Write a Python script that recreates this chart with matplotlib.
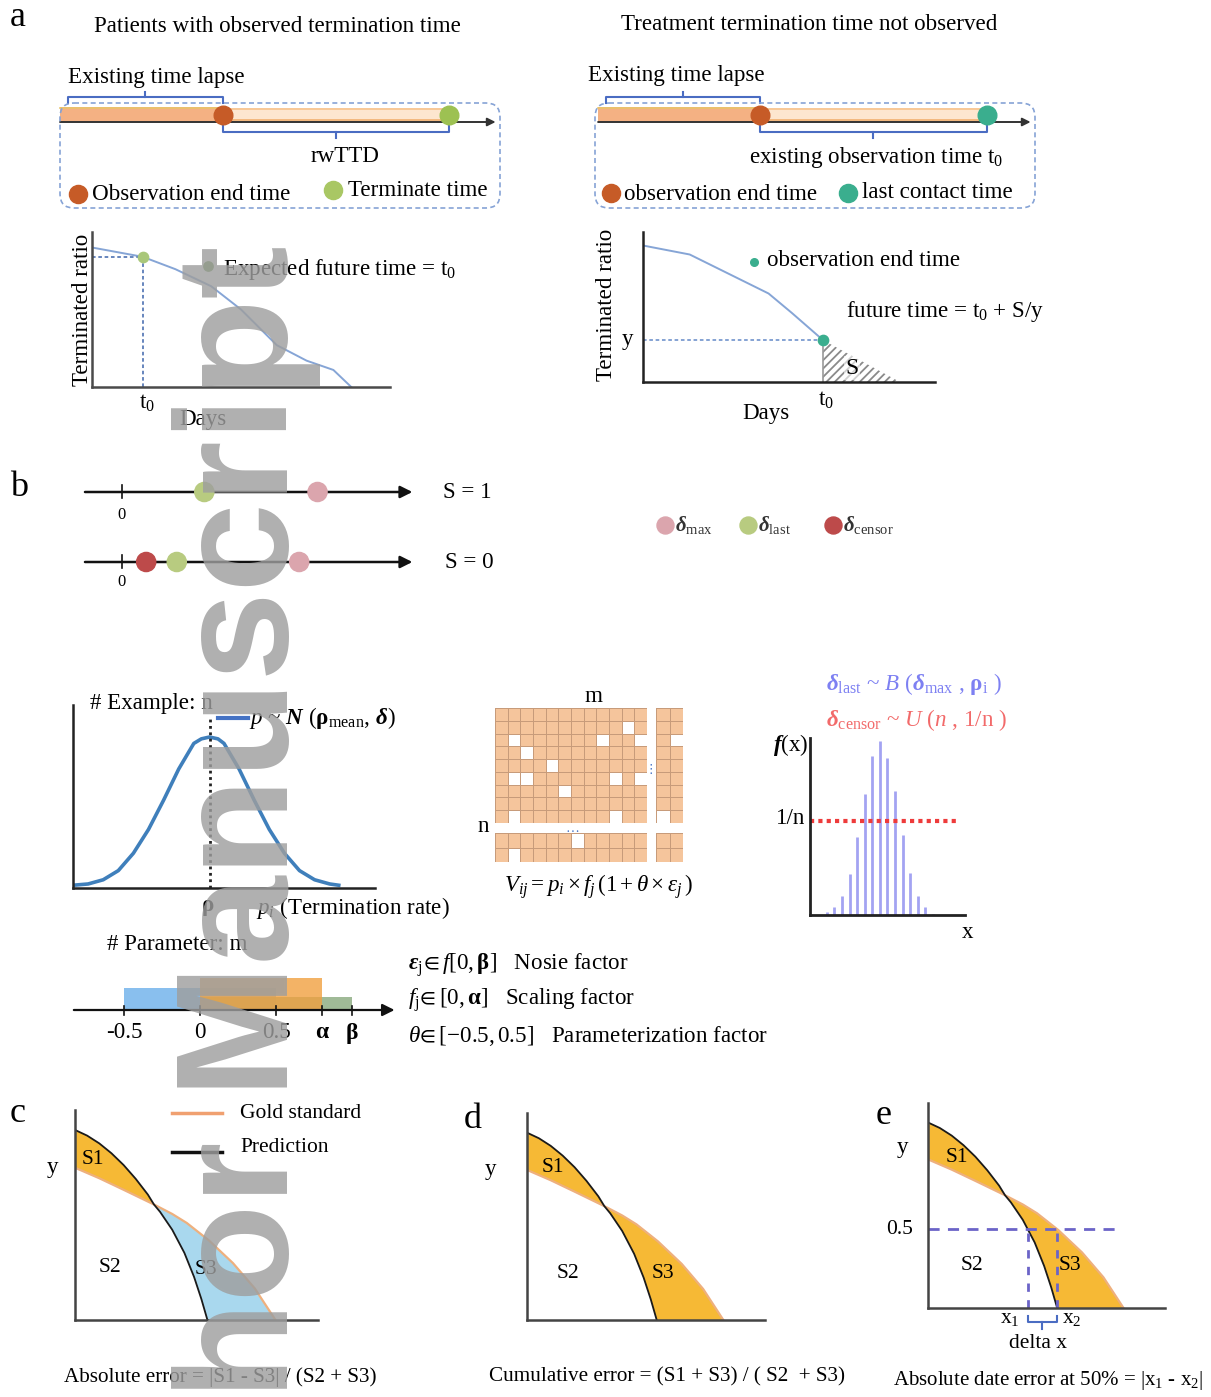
import numpy as np
import matplotlib
matplotlib.use("Agg")
import matplotlib.pyplot as plt
from matplotlib.patches import FancyBboxPatch, Polygon
from matplotlib.colors import ListedColormap

plt.rcParams['font.family'] = ['Liberation Serif', 'DejaVu Serif', 'DejaVu Sans']
plt.rcParams['mathtext.fontset'] = 'custom'
plt.rcParams['mathtext.rm'] = 'Liberation Serif'
plt.rcParams['mathtext.it'] = 'Liberation Serif:italic'
plt.rcParams['mathtext.bf'] = 'Liberation Serif:italic:bold'
plt.rcParams['mathtext.sf'] = 'Liberation Serif:bold'
plt.rcParams['mathtext.fallback'] = 'stix'
plt.rcParams['hatch.linewidth'] = 1.3

# ---------------- data ----------------
# panel a: timelines (days): start, observation end, end event, axis end
obs_timeline = [0.0, 37.0, 88.5, 99.0]
cens_timeline = [0.7, 37.5, 89.0, 99.0]
# panel a: terminated-ratio curves
obs_days = [0, 17, 28, 40, 50, 62, 72, 81, 87]
obs_ratio = [0.90, 0.84, 0.76, 0.65, 0.50, 0.27, 0.17, 0.11, 0.0]
obs_t0 = 17
obs_y0 = 0.84
cens_days = [0, 16, 43, 51, 61.6]
cens_ratio = [0.91, 0.85, 0.59, 0.46, 0.28]
cens_tail_days = [61.6, 88]
cens_tail_ratio = [0.28, 0.0]
# panel b: number lines
s1_labels = ['last', 'max']
s1_values = [2.7, 6.4]
s0_labels = ['censor', 'last', 'max']
s0_values = [0.8, 1.8, 5.8]
# panel b: normal density
norm_x = [0.0, 0.05, 0.10, 0.15, 0.20, 0.25, 0.30, 0.35, 0.40, 0.425, 0.452,
          0.48, 0.50, 0.55, 0.60, 0.65, 0.70, 0.75, 0.80, 0.85, 0.88]
norm_y = [0.015, 0.022, 0.045, 0.095, 0.19, 0.32, 0.48, 0.65, 0.79, 0.815, 0.825,
          0.815, 0.79, 0.65, 0.48, 0.32, 0.19, 0.095, 0.045, 0.022, 0.015]
rho_mean = 0.452
# panel b: parameter ranges
param_ticks = [-0.5, 0.0, 0.5, 0.8, 1.0]
param_tick_labels = ['-0.5', '0', '0.5', 'α', 'β']
theta_range = [-0.5, 0.5]
f_range = [0.0, 0.8]
eps_range = [0.0, 1.0]
# panel b: matrix missing cells (row, col)
main_shape = (9, 12)
main_missing = [(1, 10), (2, 1), (2, 8), (2, 11), (3, 2), (4, 4), (5, 1), (5, 2),
                (5, 9), (5, 11), (6, 5), (8, 1), (8, 9)]
side_shape = (9, 2)
side_missing = [(2, 1), (8, 0)]
bottom_shape = (2, 12)
bottom_missing = [(0, 6), (1, 1)]
corner_shape = (2, 2)
corner_missing = []
# panel b: binomial pmf
binom_k = list(range(15))
binom_pmf = [0.015, 0.048, 0.108, 0.229, 0.442, 0.684, 0.898, 0.981, 0.888, 0.703,
             0.452, 0.238, 0.108, 0.043, 0.006]
uniform_level = 0.53
# panels c-e: survival curves
pred_x = [0, 0.05, 0.10, 0.15, 0.20, 0.25, 0.30, 0.325, 0.35, 0.40, 0.45, 0.49, 0.52, 0.545]
pred_y = [0.905, 0.878, 0.841, 0.794, 0.738, 0.672, 0.597, 0.55, 0.515, 0.43, 0.32, 0.205, 0.10, 0.0]
gold_x = [0, 0.10, 0.20, 0.325, 0.40, 0.46, 0.55, 0.65, 0.74, 0.825]
gold_y = [0.725, 0.675, 0.62, 0.55, 0.505, 0.462, 0.38, 0.271, 0.15, 0.0]
cross_x = 0.325
half_level = 0.385

# ---------------- figure ----------------
W, H = 1211, 1397
fig = plt.figure(figsize=(W / 100, H / 100), dpi=100)
fig.patch.set_facecolor('white')


def px_axes(x0, y0, x1, y1, z=2):
    ax = fig.add_axes([x0 / W, 1 - y1 / H, (x1 - x0) / W, (y1 - y0) / H])
    ax.set_facecolor('none')
    ax.set_zorder(z)
    return ax


def clean(ax, color='#4a4a4a', lw=1.8):
    for k, s in ax.spines.items():
        if k in ('left', 'bottom'):
            s.set_color(color)
            s.set_linewidth(lw)
        else:
            s.set_visible(False)
    ax.set_xticks([])
    ax.set_yticks([])


ov = px_axes(0, 0, W, H, z=10)
ov.set_xlim(0, W)
ov.set_ylim(H, 0)
ov.axis('off')


def T(x, y, s, size=16.6, ha='left', va='center', **kw):
    return ov.text(x, y, s, fontsize=size, ha=ha, va=va, **kw)


# ======== panel a ========
T(10, 18, 'a', size=26)
T(277, 26, 'Patients with observed termination time', ha='center')
T(809, 25, 'Treatment termination time not observed', ha='center')

BC = '#4a6cc2'


def timeline(x0, events, end_color):
    ax = px_axes(x0 - 5, 85, x0 + 445, 145)
    ax.set_xlim(-5 / 4.4, 445 / 4.4)
    ax.set_ylim(145, 85)
    ax.axis('off')
    s, e1, e2, e3 = events
    ax.fill_between([s, e1], 107, 122, color='#f4b183', lw=0)
    ax.plot([s, e1], [107.5, 107.5], color='#e8c46a', lw=1.2)
    ax.fill_between([e1, e2], 108, 122, color='#fde6cf', lw=0)
    ax.plot([e1, e2], [108.5, 108.5], color='#f7c48f', lw=1.2)
    ax.plot([e1, e2], [120, 120], color='#f2b070', lw=1.2)
    ax.annotate('', xy=(e3, 122), xytext=(s, 122),
                arrowprops=dict(arrowstyle='-|>', color='#333333', lw=1.4,
                                mutation_scale=12, shrinkA=0, shrinkB=0))
    ax.scatter([e1], [115], s=180, color='#c65b27', zorder=5)
    ax.scatter([e2], [115], s=180, color=end_color, zorder=5)
    ax.plot([s + 1.8, s + 1.8, e1, e1], [103, 97, 97, 103], color=BC, lw=1.5)
    m1 = (s + 1.8 + e1) / 2
    ax.plot([m1, m1], [97, 92], color=BC, lw=1.5)
    ax.plot([e1, e1, e2, e2], [125, 132, 132, 125], color=BC, lw=1.5)
    m2 = (e1 + e2) / 2
    ax.plot([m2, m2], [132, 138], color=BC, lw=1.5)


for bx0 in (60, 595):
    ov.add_patch(FancyBboxPatch((bx0, 103), 440, 105,
                                boxstyle='round,pad=0,rounding_size=14',
                                fc='none', ec='#86a3d6', lw=1.2, ls=(0, (3, 2))))
timeline(60, obs_timeline, '#9dc152')
timeline(595, cens_timeline, '#3aae8e')

T(68, 78, 'Existing time lapse')
T(345, 157, 'rwTTD', ha='center')
ov.scatter([78], [194], s=170, color='#c65b27', zorder=6)
T(92, 195, 'Observation end time')
ov.scatter([333], [190], s=170, color='#a9c764', zorder=6)
T(348, 191, 'Terminate time')

T(588, 76, 'Existing time lapse')
T(876, 157, r'existing observation time $\rm t_0$', ha='center')
ov.scatter([611], [193], s=170, color='#c65b27', zorder=6)
T(624, 194, 'observation end time')
ov.scatter([848], [193], s=170, color='#3aae8e', zorder=6)
T(862, 193, 'last contact time')

# left chart
ca = px_axes(92, 232, 390, 387)
ca.set_xlim(0, 100)
ca.set_ylim(0, 1)
clean(ca)
ca.plot(obs_days, obs_ratio, color='#86a5d6', lw=1.4)
ca.plot([0, obs_t0], [obs_y0, obs_y0], ls=(0, (2, 1.5)), color='#5b7cb8', lw=1.3)
ca.plot([obs_t0, obs_t0], [0, obs_y0], ls=(0, (2, 1.5)), color='#5b7cb8', lw=1.3)
ca.scatter([obs_t0], [obs_y0], s=55, color='#a9c77a', zorder=5)
T(82, 310, 'Terminated ratio', rotation=90, ha='center')
T(147, 403, r'$\rm t_0$', ha='center')
T(203, 420, 'Days', ha='center')
ov.scatter([208], [266], s=45, color='#6f9a4e', zorder=6)
T(223, 270, r'Expected future time = $\rm t_0$')

# right chart
cb = px_axes(643, 232, 935, 382)
cb.set_xlim(0, 100)
cb.set_ylim(0, 1)
clean(cb, color='#222222')
cb.fill_between(cens_tail_days, cens_tail_ratio, 0, facecolor='white',
                hatch='////', edgecolor='#8a8a8a', lw=0)
cb.plot(cens_days, cens_ratio, color='#86a5d6', lw=1.4)
cb.plot([cens_days[-1]] * 2, [0, cens_ratio[-1]], color='#9a9a9a', lw=1.2)
cb.plot([0, cens_days[-1]], [cens_ratio[-1]] * 2, ls=(0, (2, 1.5)), color='#7b9bd0', lw=1.3)
cb.scatter([cens_days[-1]], [cens_ratio[-1]], s=55, color='#3aae8e', zorder=5)
T(606, 305, 'Terminated ratio', rotation=90, ha='center')
T(627, 340, 'y', ha='center')
T(826, 400, r'$\rm t_0$', ha='center')
T(766, 414, 'Days', ha='center')
ov.scatter([754], [262], s=30, color='#3aae8e', zorder=6)
T(767, 260, 'observation end time')
T(846, 312, r'future time = $\rm t_0$ + S/y')
T(852, 368, 'S', ha='center', size=17,
  bbox=dict(boxstyle='square,pad=0.05', fc='white', ec='none', alpha=0.6))

# ======== panel b ========
T(10, 488, 'b', size=26)
DCOL = {'max': '#dba5ad', 'last': '#b8cb80', 'censor': '#bd4a4a'}
u = 30.6
bxa = px_axes(80, 470, 420, 590)
bxa.set_xlim((80 - 121.7) / u, (420 - 121.7) / u)
bxa.set_ylim(590, 470)
bxa.axis('off')
for yl, labs, vals in ((492, s1_labels, s1_values), (562, s0_labels, s0_values)):
    bxa.annotate('', xy=(9.5, yl), xytext=(-1.2, yl),
                 arrowprops=dict(arrowstyle='-|>', color='#111111', lw=1.8,
                                 mutation_scale=18, shrinkA=0, shrinkB=0))
    bxa.plot([0, 0], [yl - 7, yl + 6], color='#111111', lw=1.2)
    bxa.scatter(vals, [yl] * len(vals), s=190, color=[DCOL[l] for l in labs], zorder=5)
T(121, 515, '0', ha='center', size=12)
T(121, 582, '0', ha='center', size=12)
T(443, 492, 'S = 1')
T(445, 563, 'S = 0')
for xx, lab in ((665, 'max'), (748, 'last'), (833, 'censor')):
    ov.scatter([xx], [525], s=150, color=DCOL[lab], zorder=6)
    T(xx + 10, 525, r'$\mathbf{\delta}_{\rm ' + lab + '}$', size=15, color='#333333')

# normal distribution
na = px_axes(73, 705, 375, 888)
na.set_xlim(0, 1)
na.set_ylim(0, 1)
clean(na, color='#222222', lw=1.8)
na.plot(norm_x, norm_y, color='#3f7fbb', lw=2.6)
na.plot([rho_mean, rho_mean], [0, 0.93], ls=(0, (1, 1.3)), color='#222222', lw=2)
T(90, 703, '# Example: n')
ov.plot([218, 248], [718, 718], color='#4472c4', lw=3)
T(249, 718, r'$p$ ~ $\mathbf{N}$ ($\mathsf{\rho}_{\rm mean}$, $\mathbf{\delta}$)')
T(208, 908, r'$\mathsf{\rho}$', ha='center')
T(256, 908, r'$p_i$ (Termination rate)')

# parameter axis
T(107, 944, '# Parameter: m')
pa = px_axes(70, 965, 400, 1025)
pa.set_xlim((70 - 200) / 152, (400 - 200) / 152)
pa.set_ylim(-15, 45)
pa.axis('off')
pa.bar(theta_range[0], 22, width=theta_range[1] - theta_range[0], align='edge',
       color='#74b4ec', alpha=0.85, lw=0)
pa.bar(eps_range[0], 13, width=eps_range[1] - eps_range[0], align='edge',
       color='#8fae85', alpha=0.85, lw=0)
pa.bar(f_range[0], 32, width=f_range[1] - f_range[0], align='edge',
       color='#f0a040', alpha=0.8, lw=0)
pa.annotate('', xy=(1.28, 0), xytext=(-0.83, 0),
            arrowprops=dict(arrowstyle='-|>', color='#111111', lw=1.6,
                            mutation_scale=18, shrinkA=0, shrinkB=0))
for v, lab in zip(param_ticks, param_tick_labels):
    pa.plot([v, v], [-5, 4], color='#111111', lw=1.2)
    bold = lab in ('α', 'β')
    pa.text(v, -23, lab, ha='center', va='center', fontsize=17 if bold else 16.6,
            fontweight='bold' if bold else 'normal', clip_on=False)
T(408, 965, r'$\mathbf{\varepsilon}_{\rm j}\!\in \mathit{f}[0,\mathsf{\beta}]$   Nosie factor')
T(408, 1000, r'$f_{\rm j}\!\in [0,\mathsf{\alpha}]$   Scaling factor')
T(408, 1036, r'$\theta\!\in [\mathit{-0.5,0.5}]$   Parameterization factor')

# matrix


def draw_block(box, shape, missing):
    ax = px_axes(*box)
    g = np.ones(shape)
    for (i, j) in missing:
        g[i, j] = 0
    ax.pcolormesh(g, cmap=ListedColormap(['white', '#f5c59c']), vmin=0, vmax=1,
                  edgecolors='#c79b7a', linewidth=0.6)
    ax.set_xlim(0, shape[1])
    ax.set_ylim(shape[0], 0)
    ax.axis('off')


draw_block((495, 708, 647, 823), main_shape, main_missing)
draw_block((656, 708, 683, 823), side_shape, side_missing)
draw_block((495, 833, 647, 862), bottom_shape, bottom_missing)
draw_block((656, 833, 683, 862), corner_shape, corner_missing)
T(593, 697, 'm', ha='center')
T(483, 826, 'n', ha='center')
T(651, 770, '⋮', ha='center', size=9, color='#4472c4', family=['DejaVu Sans'])
T(572, 828, '…', ha='center', size=10, color='#4472c4')
T(598, 887, r'$V_{ij} = p_i \times f_j\,(1 + \theta \times \varepsilon_j\,)$', ha='center')

# binomial
bi = px_axes(810, 738, 965, 915)
bi.set_xlim(-2.23, 18.24)
bi.set_ylim(0, 1)
clean(bi, color='#222222', lw=2)
bi.vlines(binom_k, 0, binom_pmf, color='#a3a3f2', lw=2)
bi.plot([-2.23, 17.2], [uniform_level] * 2, ls=(0, (1, 1)), color='#ee3b3b', lw=3)
T(826, 684, r'$\mathbf{\delta}_{\rm last}$ ~ $\mathit{B}$ ($\mathbf{\delta}_{\rm max}$ , $\mathsf{\rho}_{\rm i}$ )',
  color='#7d80f2')
T(826, 720, r'$\mathbf{\delta}_{\rm censor}$ ~ $\mathit{U}$ ($\mathit{n}$ , 1/n )', color='#f26a6a')
T(808, 745, r'$\mathbf{f}$(x)', ha='right')
T(805, 818, '1/n', ha='right')
T(968, 932, 'x', ha='center')

# ======== panels c, d, e ========


def err_panel(box, s3color):
    ax = px_axes(*box)
    ax.set_xlim(0, 1)
    ax.set_ylim(0, 1)
    clean(ax, color='#444444', lw=1.8)
    px, py = np.array(pred_x), np.array(pred_y)
    gx, gy = np.array(gold_x), np.array(gold_y)
    pm, gm = px <= cross_x, gx <= cross_x
    s1 = np.r_[np.c_[px[pm], py[pm]], np.c_[gx[gm], gy[gm]][::-1]]
    ax.add_patch(Polygon(s1, closed=True, fc='#f6b935', ec='none'))
    pn, gn = px >= cross_x, gx >= cross_x
    s3 = np.r_[np.c_[px[pn], py[pn]], np.c_[gx[gn], gy[gn]][::-1]]
    ax.add_patch(Polygon(s3, closed=True, fc=s3color, ec='none'))
    ax.plot(gold_x, gold_y, color='#eeb07e', lw=1.6)
    ax.plot(pred_x, pred_y, color='#1a1a1a', lw=1.3)
    return ax


err_panel((75, 1110, 318, 1320), '#a9d8ee')
err_panel((527, 1113, 765, 1320), '#f6b935')
ae = err_panel((928, 1103, 1165, 1308), '#f6b935')
x1 = np.interp(half_level, pred_y[::-1], pred_x[::-1])
x2 = np.interp(half_level, gold_y[::-1], gold_x[::-1])
PC = '#6b64c8'
ae.plot([0, 0.82], [half_level] * 2, ls=(0, (4, 3)), color=PC, lw=2)
ae.plot([x1, x1], [0, half_level], ls=(0, (3, 3)), color=PC, lw=2)
ae.plot([x2, x2], [0, half_level], ls=(0, (3, 3)), color=PC, lw=2)
ae.plot([x1, x1, x2, x2], [-0.04, -0.07, -0.07, -0.04], color=BC, lw=1.5, clip_on=False)
ae.plot([(x1 + x2) / 2] * 2, [-0.07, -0.10], color=BC, lw=1.5, clip_on=False)

T(10, 1113, 'c', size=26)
T(464, 1120, 'd', size=26)
T(876, 1115, 'e', size=26)
for xx, yy in ((52, 1167), (490, 1170), (902, 1147)):
    T(xx, yy, 'y', ha='center')
ov.plot([172, 222], [1113, 1113], color='#f0a070', lw=2.5)
ov.plot([172, 222], [1152, 1152], color='#111111', lw=2.5)
T(240, 1113, 'Gold standard', size=15.5)
T(240, 1147, 'Prediction', size=15.5)
for (xa, ya), lab in (((93, 1160), 'S1'), ((110, 1268), 'S2'), ((206, 1270), 'S3'),
                      ((553, 1168), 'S1'), ((568, 1273), 'S2'), ((663, 1273), 'S3'),
                      ((957, 1157), 'S1'), ((972, 1265), 'S2'), ((1070, 1265), 'S3')):
    T(xa, ya, lab, ha='center', size=15.5)
T(900, 1229, '0.5', ha='center', size=15.5)
T(1010, 1318, r'x$_1$', ha='center', size=15.5)
T(1072, 1318, r'x$_2$', ha='center', size=15.5)
T(1038, 1344, 'delta x', ha='center', size=15.5)
T(220, 1377, 'Absolute error = |S1 - S3| / (S2 + S3)', ha='center', size=15.2)
T(667, 1377, 'Cumulative error = (S1 + S3) / ( S2  + S3)', ha='center', size=15.2)
T(1048, 1381, r'Absolute date error at 50% = |x$_1$ - x$_2$|', ha='center', size=15)

# watermark
ov.text(288, 1665, 'Author Manuscript', rotation=90, rotation_mode='anchor',
        ha='left', va='baseline', fontsize=115, family='Liberation Sans',
        fontweight='bold', color='#9e9e9e', alpha=0.82, zorder=100)

fig.savefig('out.png', dpi=100, facecolor='white')
